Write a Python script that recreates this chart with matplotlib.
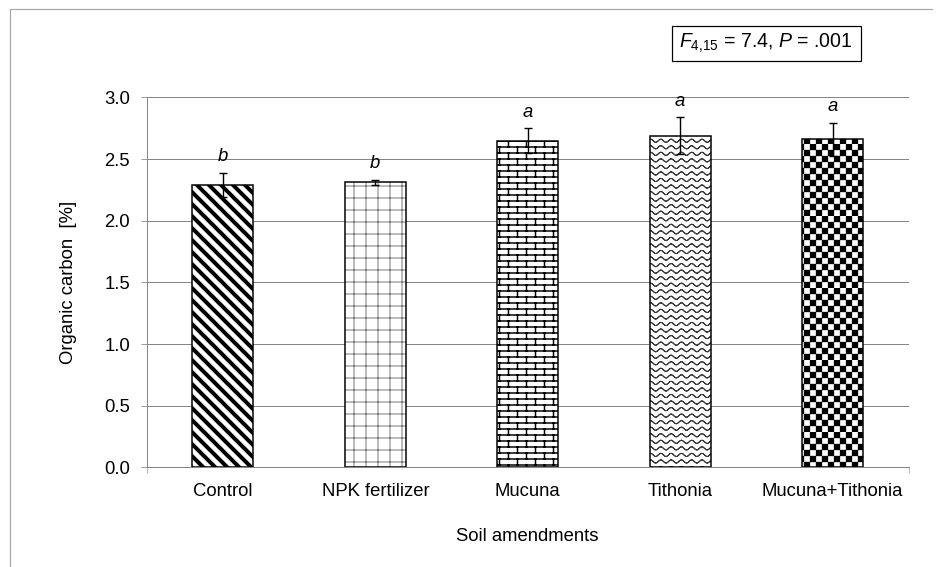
import warnings
import numpy as np
import matplotlib
matplotlib.use("Agg")
import matplotlib.pyplot as plt
from matplotlib import hatch as mhatch
from matplotlib.path import Path
from matplotlib.patches import Rectangle
from matplotlib.lines import Line2D

warnings.filterwarnings("ignore")

amendments = ["Control", "NPK fertilizer", "Mucuna", "Tithonia", "Mucuna+Tithonia"]
organic_carbon = [2.29, 2.31, 2.65, 2.69, 2.66]
std_error = [0.10, 0.02, 0.10, 0.15, 0.135]
letters = ["b", "b", "a", "a", "a"]


# extra hatch patterns (bricks, waves, checkerboard) in the style of the Excel fills
class Bricks(mhatch.HatchPatternBase):
    def __init__(self, hatch, density):
        self.rows, self.cols = 12, 4
        on = "b" in hatch
        self.num_vertices = 2 * (self.rows + (self.rows + 1) * self.cols) if on else 0

    def set_vertices_and_codes(self, vertices, codes):
        h = 1.0 / self.rows
        segs = []
        for r in range(self.rows):
            y = (r + 0.5) * h
            segs.append([(0, y), (1, y)])
        for r in range(self.rows + 1):
            y0 = max((r - 0.5) * h, 0)
            y1 = min((r + 0.5) * h, 1)
            shift = 0.25 if r % 2 == 0 else 0.75
            for c in range(self.cols):
                x = (c + shift) / self.cols
                segs.append([(x, y0), (x, y1)])
        vertices[:] = np.array(segs).reshape(-1, 2)
        codes[0::2] = Path.MOVETO
        codes[1::2] = Path.LINETO


class Waves(mhatch.HatchPatternBase):
    def __init__(self, hatch, density):
        self.rows, self.waves, self.n = 11, 7, 85
        on = "w" in hatch
        self.num_vertices = self.rows * self.n * 2 if on else 0

    def set_vertices_and_codes(self, vertices, codes):
        x = np.linspace(0, 1, self.n)
        parts = []
        for r in range(self.rows):
            y = (r + 0.5) / self.rows + 0.022 * np.sin(2 * np.pi * self.waves * x)
            line = np.column_stack([x, y])
            parts.append(np.vstack([line, line[::-1]]))
        vertices[:] = np.vstack(parts)
        codes[:] = Path.LINETO
        codes[0::self.n * 2] = Path.MOVETO


class Checks(mhatch.HatchPatternBase):
    def __init__(self, hatch, density):
        self.n = 12
        on = "c" in hatch
        self.num_vertices = (self.n * self.n // 2) * 5 if on else 0

    def set_vertices_and_codes(self, vertices, codes):
        s = 1.0 / self.n
        sq = np.array([[0, 0], [s, 0], [s, s], [0, s], [0, 0]])
        k = 0
        for i in range(self.n):
            for j in range(self.n):
                if (i + j) % 2 == 0:
                    vertices[k:k + 5] = sq + [i * s, j * s]
                    codes[k:k + 5] = [Path.MOVETO, Path.LINETO, Path.LINETO,
                                      Path.LINETO, Path.CLOSEPOLY]
                    k += 5


mhatch._hatch_types.extend([Bricks, Waves, Checks])

hatches = ["\\\\", "+", "b", "w", "c"]
hatch_colors = ["black", "#7a7a7a", "black", "#3a3a3a", "black"]
hatch_widths = [4.0, 1.0, 1.5, 1.0, 0.3]

FS = 18.5
plt.rcParams["font.family"] = "Liberation Sans"
plt.rcParams["font.size"] = FS
plt.rcParams["mathtext.fontset"] = "custom"
plt.rcParams["mathtext.rm"] = "Liberation Sans"
plt.rcParams["mathtext.it"] = "Liberation Sans:italic"

DPI = 72
fig = plt.figure(figsize=(940 / DPI, 567 / DPI), dpi=DPI)
ax = fig.add_axes([0.1561, 0.1758, 0.8106, 0.6524])

x = np.arange(len(amendments))
grey = "#868686"

for i in range(len(amendments)):
    with plt.rc_context({"hatch.linewidth": hatch_widths[i]}):
        bar = ax.bar(x[i], organic_carbon[i], width=0.40, color="white",
                     edgecolor=hatch_colors[i], linewidth=0, hatch=hatches[i],
                     zorder=2)[0]
        if hasattr(bar, "set_hatch_linewidth"):
            bar.set_hatch_linewidth(hatch_widths[i])

ax.bar(x, organic_carbon, width=0.40, fill=False, edgecolor="black",
       linewidth=1.5, zorder=3)
ax.errorbar(x, organic_carbon, yerr=std_error, fmt="none", ecolor="black",
            elinewidth=1.4, capsize=4, capthick=1.4, zorder=4)

for i, letter in enumerate(letters):
    ax.text(x[i], organic_carbon[i] + std_error[i] + 0.13, letter,
            style="italic", ha="center", va="center", fontsize=FS, zorder=5)

ax.set_xlim(-0.5, len(amendments) - 0.5)
ax.set_ylim(0, 3.0)
ax.set_yticks(np.arange(0, 3.01, 0.5))
ax.set_yticklabels([f"{v:.1f}" for v in np.arange(0, 3.01, 0.5)])
ax.set_xticks(x)
ax.set_xticklabels(amendments)
ax.set_xticks([-0.5, len(amendments) - 0.5], minor=True)

ax.yaxis.grid(True, color=grey, linewidth=1)
ax.set_axisbelow(True)
for side in ["top", "right"]:
    ax.spines[side].set_visible(False)
for side in ["left", "bottom"]:
    ax.spines[side].set_color(grey)
    ax.spines[side].set_linewidth(1)

ax.tick_params(axis="y", length=6, color=grey, pad=10.5, labelsize=FS)
ax.tick_params(axis="x", which="major", length=0, pad=16, labelsize=FS)
ax.tick_params(axis="x", which="minor", length=6, color=grey)

ax.set_ylabel("Organic carbon  [%]", fontsize=FS)
ax.yaxis.set_label_coords(-0.1033, 0.5)
ax.yaxis.label.set_va("center")
ax.set_xlabel("Soil amendments", fontsize=FS)
ax.xaxis.set_label_coords(0.5, -0.1857)
ax.xaxis.label.set_va("center")

# statistics box
fig.patches.append(Rectangle((0.7146, 0.8929), 0.2011, 0.0612, transform=fig.transFigure,
                             fill=False, edgecolor="black", linewidth=1.2))
fig.text(0.8151, 0.9236, r"$F_{\mathrm{4{,}15}}$ = 7.4, $P$ = .001",
         ha="center", va="center", fontsize=19.5)

# chart area border (only left and top are visible in the crop)
fig.add_artist(Line2D([10 / 940, 10 / 940], [0, 1 - 9 / 567], color="#a6a6a6",
                      linewidth=1.2, transform=fig.transFigure))
fig.add_artist(Line2D([10 / 940, 932 / 940], [1 - 9 / 567, 1 - 9 / 567],
                      color="#a6a6a6", linewidth=1.2, transform=fig.transFigure))

fig.savefig("out.png", dpi=DPI)
